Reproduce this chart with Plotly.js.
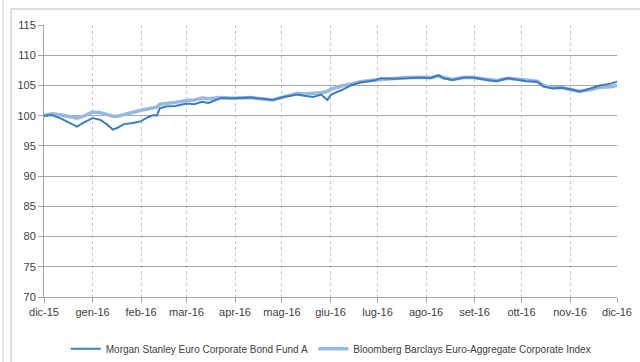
<!DOCTYPE html>
<html><head><meta charset="utf-8">
<script src="https://cdn.plot.ly/plotly-3.0.1.min.js"></script>
<style>html,body{margin:0;padding:0;background:#fff;}#chart{width:640px;height:362px;}</style>
</head><body><div id="chart"></div>
<script>
const dates = ['2015-12-01','2015-12-06','2015-12-12','2015-12-17','2015-12-22','2015-12-26','2016-01-01','2016-01-06','2016-01-10','2016-01-14','2016-01-17','2016-01-21','2016-01-27','2016-02-01','2016-02-05','2016-02-09','2016-02-11','2016-02-13','2016-02-17','2016-02-23','2016-03-01','2016-03-06','2016-03-11','2016-03-15','2016-03-23','2016-03-31','2016-04-11','2016-04-22','2016-04-25','2016-05-02','2016-05-11','2016-05-15','2016-05-21','2016-05-26','2016-05-30','2016-06-01','2016-06-03','2016-06-08','2016-06-14','2016-06-20','2016-06-29','2016-07-03','2016-07-11','2016-07-20','2016-07-28','2016-08-04','2016-08-09','2016-08-12','2016-08-18','2016-08-25','2016-08-31','2016-09-09','2016-09-15','2016-09-22','2016-09-28','2016-10-04','2016-10-11','2016-10-15','2016-10-21','2016-10-27','2016-11-03','2016-11-07','2016-11-14','2016-11-20','2016-11-27','2016-12-01'];
const fund = [100.0,100.1,99.5,98.8,98.2,98.8,99.6,99.3,98.6,97.7,98.0,98.6,98.8,99.1,99.7,100.1,100.0,101.2,101.5,101.6,102.0,101.9,102.3,102.1,102.9,102.9,103.0,102.7,102.6,103.1,103.5,103.3,103.1,103.5,102.6,103.4,103.7,104.2,105.0,105.5,105.8,106.2,106.1,106.2,106.3,106.2,106.7,106.2,105.9,106.3,106.3,105.9,105.7,106.2,105.9,105.7,105.6,104.8,104.5,104.6,104.3,104.0,104.5,105.0,105.3,105.6];
const index = [100.0,100.3,100.1,99.8,99.6,99.9,100.6,100.5,100.2,99.9,99.9,100.2,100.6,100.9,101.1,101.3,101.4,101.9,102.0,102.2,102.5,102.6,102.9,102.8,103.0,102.9,103.0,102.7,102.6,103.1,103.7,103.6,103.7,103.8,104.0,104.4,104.5,104.9,105.2,105.6,105.9,106.0,106.1,106.3,106.3,106.3,106.6,106.3,106.0,106.3,106.3,106.0,105.8,106.2,106.0,105.8,105.7,105.0,104.6,104.6,104.3,104.0,104.3,104.7,104.8,105.0];
const tickDates = ['2015-12-01','2016-01-01','2016-02-01','2016-03-01','2016-04-01','2016-05-01','2016-06-01','2016-07-01','2016-08-01','2016-09-01','2016-10-01','2016-11-01','2016-12-01'];
const tickLabels = ['dic-15','gen-16','feb-16','mar-16','apr-16','mag-16','giu-16','lug-16','ago-16','set-16','ott-16','nov-16','dic-16'];
const names = ['Morgan Stanley Euro Corporate Bond Fund A','Bloomberg Barclays Euro-Aggregate Corporate Index'];

const font = {family: '"Liberation Sans", Arial, sans-serif', size: 11, color: '#404040'};
const legFont = {family: '"Liberation Sans", Arial, sans-serif', size: 10, color: '#404040'};
const traces = [
  {x: dates, y: index, name: names[1], type: 'scatter', mode: 'lines', line: {color: '#95B9E1', width: 3.5}, legend: 'legend2'},
  {x: dates, y: fund, name: names[0], type: 'scatter', mode: 'lines', line: {color: '#3D7CC1', width: 2}, legend: 'legend'}
];
const layout = {
  width: 640, height: 362,
  margin: {l: 44, r: 23, t: 25, b: 65, autoexpand: false},
  paper_bgcolor: '#fff', plot_bgcolor: '#fff',
  font: font,
  showlegend: true,
  legend: {orientation: 'h', x: 0.038, xanchor: 'left', y: -0.19, yanchor: 'middle', font: legFont, itemwidth: 30},
  legend2: {orientation: 'h', x: 0.47, xanchor: 'left', y: -0.19, yanchor: 'middle', font: legFont, itemwidth: 30},
  xaxis: {type: 'date', range: ['2015-12-01','2016-12-01'], tickvals: tickDates, ticktext: tickLabels,
    showgrid: true, gridcolor: '#B4C7E7', griddash: 'dot', gridwidth: 1,
    showline: true, linecolor: '#A6A6A6', linewidth: 1, ticks: 'outside', ticklen: 5, tickcolor: '#A6A6A6',
    tickfont: font, zeroline: false, fixedrange: true},
  yaxis: {range: [70, 115], dtick: 5, tick0: 70, showgrid: true, gridcolor: '#A6A6A6', gridwidth: 1,
    showline: true, linecolor: '#A6A6A6', linewidth: 1, ticks: 'outside', ticklen: 5, tickcolor: '#A6A6A6',
    tickfont: font, zeroline: false, fixedrange: true},
  shapes: [
    {type: 'line', xref: 'paper', yref: 'paper', x0: -0.0716, x1: -0.0716, y0: 1.2, y1: -0.3, line: {color: '#C8C8C8', width: 1}},
    {type: 'line', xref: 'paper', yref: 'paper', x0: -0.0576, x1: -0.0576, y0: 1.0588, y1: -0.3, line: {color: '#BFBFBF', width: 1}},
    {type: 'line', xref: 'paper', yref: 'paper', x0: -0.0576, x1: 1.1, y0: 1.0588, y1: 1.0588, line: {color: '#BFBFBF', width: 1}}
  ]
};
Plotly.newPlot('chart', traces, layout, {displayModeBar: false, staticPlot: true});
</script>
</body></html>
